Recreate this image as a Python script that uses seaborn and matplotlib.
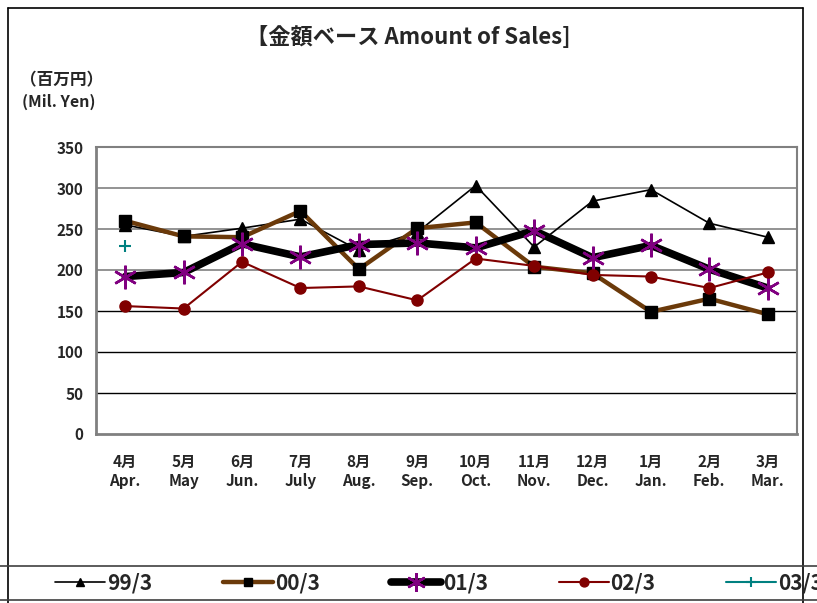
import matplotlib
matplotlib.use("Agg")
import matplotlib.pyplot as plt
import seaborn as sns
import pandas as pd
import numpy as np
from matplotlib.lines import Line2D

sns.set_theme(style="white")
plt.rcParams['font.family'] = ['Noto Sans CJK JP', 'DejaVu Sans']

months = ["4月\nApr.", "5月\nMay", "6月\nJun.", "7月\nJuly", "8月\nAug.", "9月\nSep.",
          "10月\nOct.", "11月\nNov.", "12月\nDec.", "1月\nJan.", "2月\nFeb.", "3月\nMar."]
s99 = [255, 241, 251, 262, 224, 246, 303, 228, 284, 298, 257, 240]
s00 = [260, 241, 240, 272, 201, 251, 258, 204, 196, 149, 165, 146]
s01 = [192, 197, 232, 216, 231, 233, 227, 248, 215, 230, 201, 178]
s02 = [156, 153, 210, 178, 180, 163, 214, 205, 194, 192, 178, 197]
s03 = [229]
names = ["99/3", "00/3", "01/3", "02/3", "03/3"]
yticks = [0, 50, 100, 150, 200, 250, 300, 350]

fig = plt.figure(figsize=(8.17, 6.03), dpi=100)
ax = fig.add_axes([96/817, 1-434/603, 701/817, 287/603])

for y in [50, 100, 150]:
    ax.axhline(y, color="black", lw=1.0, zorder=1)
for y in [200, 250, 300]:
    ax.axhline(y, color="#808080", lw=1.2, zorder=1)

styles = [
    dict(color="black", lw=1.2, marker="^", ms=8, mfc="black", mec="black"),
    dict(color="#6B3A0A", lw=3.2, marker="s", ms=8, mfc="black", mec="black"),
    dict(color="black", lw=5.5, marker=(6, 2, 0), ms=17, mfc="#800080", mec="#800080", mew=1.8),
    dict(color="#800000", lw=1.5, marker="o", ms=8, mfc="#800000", mec="#800000"),
    dict(color="#008080", lw=1.5, marker="+", ms=9, mfc="#008080", mec="#008080", mew=1.5),
]
series = [s99, s00, s01, s02, s03]
handles = []
for name, vals, st in zip(names, series, styles):
    df = pd.DataFrame({"x": np.arange(len(vals)), "y": vals})
    sns.lineplot(data=df, x="x", y="y", ax=ax, color=st["color"], lw=st["lw"],
                 marker=st["marker"], markersize=st["ms"], markerfacecolor=st["mfc"],
                 markeredgecolor=st["mec"], markeredgewidth=st.get("mew", 1.0), zorder=3)
    handles.append(Line2D([], [], color=st["color"], lw=st["lw"], marker=st["marker"],
                          markersize=st["ms"] * 0.8, markerfacecolor=st["mfc"],
                          markeredgecolor=st["mec"], markeredgewidth=st.get("mew", 1.0)))

ax.set_xlim(-0.5, 11.5)
ax.set_ylim(0, 350)
ax.set_yticks(yticks)
ax.set_yticklabels([str(v) for v in yticks], fontsize=11, fontweight="bold")
ax.set_xticks(np.arange(12))
ax.set_xticklabels(months, fontsize=11, fontweight="bold", linespacing=1.3)
ax.set_xticks(np.arange(-0.5, 12.0, 1.0), minor=True)
ax.tick_params(axis="x", which="major", length=0, pad=14)
ax.tick_params(axis="x", which="minor", direction="in", length=5, color="#808080", width=1.2)
ax.tick_params(axis="y", which="major", direction="out", length=3, color="#808080", pad=6)
ax.set_xlabel("")
ax.set_ylabel("")
for sp in ax.spines.values():
    sp.set_color("#808080")
    sp.set_linewidth(1.5)
ax.spines["left"].set_linewidth(2)
ax.spines["bottom"].set_linewidth(2)

fig.text(408/817, 1-38/603, "【金額ベース Amount of Sales]", ha="center", va="center",
         fontsize=16, fontweight="bold")
fig.text(20/817, 1-80/603, "（百万円）", ha="left", va="center", fontsize=12, fontweight="bold")
fig.text(22/817, 1-102/603, "(Mil. Yen)", ha="left", va="center", fontsize=11.5, fontweight="bold")

# frame lines
fig.add_artist(Line2D([8/817, 8/817], [0, 1-8/603], transform=fig.transFigure, color="black", lw=1.2))
fig.add_artist(Line2D([8/817, 803/817], [1-8/603, 1-8/603], transform=fig.transFigure, color="black", lw=1.2))
fig.add_artist(Line2D([803/817, 803/817], [0, 1-8/603], transform=fig.transFigure, color="black", lw=1.2))
fig.add_artist(Line2D([0, 1], [1-566/603, 1-566/603], transform=fig.transFigure, color="#404040", lw=1.2))
fig.add_artist(Line2D([0, 1], [1-600/603, 1-600/603], transform=fig.transFigure, color="#404040", lw=1.2))

fig.legend(handles, names, loc="center left", bbox_to_anchor=(36/817, 1-583/603),
           ncol=5, frameon=False, handlelength=2.4, columnspacing=3.4, handletextpad=0.1,
           prop=dict(family=['Noto Sans CJK JP', 'DejaVu Sans'], size=15, weight="bold"))

fig.savefig("out.png", dpi=100)
